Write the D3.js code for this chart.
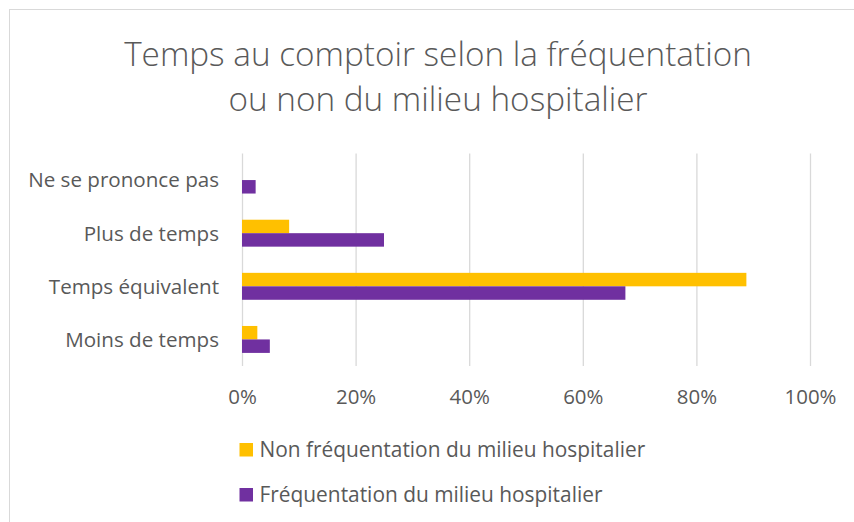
<!DOCTYPE html>
<html>
<head>
<meta charset="utf-8">
<script src="https://cdnjs.cloudflare.com/ajax/libs/d3/7.8.5/d3.min.js"></script>
<style>
    body { margin: 0; background: #fff; }
    #chart-area { width: 854px; height: 522px; }
    text { font-family: "Open Sans", Lato, sans-serif; fill: #595959; }
</style>
</head>
<body>
<div id="chart-area"></div>
<script>
// categories, top to bottom
const categories = ['Ne se prononce pas', 'Plus de temps', 'Temps équivalent', 'Moins de temps'];
const seriesNames = ['Non fréquentation du milieu hospitalier', 'Fréquentation du milieu hospitalier'];
const nonFrequentation = [0, 8.3, 88.8, 2.7];
const frequentation = [2.4, 25.0, 67.5, 4.9];
const xTicks = [0, 20, 40, 60, 80, 100];
const titleLines = ['Temps au comptoir selon la fréquentation', 'ou non du milieu hospitalier'];

const WIDTH = 854;
const HEIGHT = 522;
const MARGIN = {top: 153.5, right: 44, bottom: 156, left: 242};
const colors = ['#FFC000', '#7030A0'];

// scale a group of texts so that a reference text gets the wanted width
function fitFont(selection, refNode, target, base) {
    selection.attr('font-size', base + 'px');
    const w = refNode.getComputedTextLength();
    const size = base * target / w;
    selection.attr('font-size', size + 'px');
    return size;
}

const svg = d3.select('#chart-area').append('svg')
    .attr('width', WIDTH)
    .attr('height', HEIGHT);

// chart frame
svg.append('rect')
    .attr('x', 9.5)
    .attr('y', 9.5)
    .attr('width', WIDTH)
    .attr('height', HEIGHT)
    .attr('fill', 'none')
    .attr('stroke', '#D9D9D9');

// title
const title = svg.append('text')
    .attr('class', 'title')
    .attr('text-anchor', 'middle')
    .attr('font-weight', 300);
const titleSpans = title.selectAll('tspan')
    .data(titleLines)
    .join('tspan')
    .attr('x', 438)
    .attr('y', (d, i) => 66 + i * 45)
    .text(d => d);
fitFont(title, titleSpans.node(), 628, 30);

const innerW = WIDTH - MARGIN.left - MARGIN.right;
const innerH = HEIGHT - MARGIN.top - MARGIN.bottom;

const graph = svg.append('g')
    .attr('transform', `translate(${MARGIN.left}, ${MARGIN.top})`);

const xScale = d3.scaleLinear()
    .domain([0, 100])
    .range([0, innerW]);

const yScale = d3.scaleBand()
    .domain(categories)
    .range([0, innerH])
    .paddingInner(0.493)
    .paddingOuter(0.2465);

const ySub = d3.scaleBand()
    .domain(seriesNames)
    .range([0, yScale.bandwidth()]);

// gridlines
const xAxisCall = d3.axisBottom(xScale)
    .tickValues(xTicks)
    .tickSize(innerH)
    .tickFormat(d => d + '%');

const xAxisGroup = graph.append('g')
    .attr('class', 'x-axis-group')
    .call(xAxisCall)
    .attr('font-family', null);
xAxisGroup.select('.domain').remove();
xAxisGroup.selectAll('line')
    .attr('stroke', '#D9D9D9')
    .attr('stroke-width', 1.3);
const xLabels = xAxisGroup.selectAll('text')
    .attr('fill', '#595959')
    .attr('dy', 0)
    .attr('y', innerH + 38);
fitFont(xLabels, xLabels.nodes()[5], 52, 18);

// category labels
const yAxisCall = d3.axisLeft(yScale)
    .tickSize(0)
    .tickPadding(23);
const yAxisGroup = graph.append('g')
    .attr('class', 'y-axis-group')
    .call(yAxisCall)
    .attr('font-family', null);
yAxisGroup.select('.domain').remove();
const yLabels = yAxisGroup.selectAll('text')
    .attr('fill', '#595959')
    .attr('dy', '0.36em');
fitFont(yLabels, yLabels.node(), 191, 18);

// bars
const rows = categories.map((c, i) => ({
    category: c,
    values: [
        {series: seriesNames[0], value: nonFrequentation[i], color: colors[0]},
        {series: seriesNames[1], value: frequentation[i], color: colors[1]}
    ]
}));

const groups = graph.selectAll('g.bar-group')
    .data(rows)
    .join('g')
    .attr('class', 'bar-group')
    .attr('transform', d => `translate(0, ${yScale(d.category)})`);

groups.selectAll('rect')
    .data(d => d.values.filter(v => v.value > 0))
    .join('rect')
    .attr('x', xScale(0))
    .attr('y', d => ySub(d.series))
    .attr('width', d => xScale(d.value) - xScale(0))
    .attr('height', ySub.bandwidth())
    .attr('fill', d => d.color);

// legend
const legend = svg.append('g')
    .attr('class', 'legend')
    .attr('transform', 'translate(239.5, 443)');

seriesNames.forEach((name, i) => {
    const legendRow = legend.append('g')
        .attr('transform', `translate(0, ${i * 45})`);
    legendRow.append('rect')
        .attr('width', 13.5)
        .attr('height', 13.5)
        .attr('fill', colors[i]);
    legendRow.append('text')
        .attr('x', 20)
        .attr('y', 6.75)
        .attr('dy', '0.36em')
        .text(name);
});
const legendTexts = legend.selectAll('text');
fitFont(legendTexts, legendTexts.node(), 386, 18);
</script>
</body>
</html>
